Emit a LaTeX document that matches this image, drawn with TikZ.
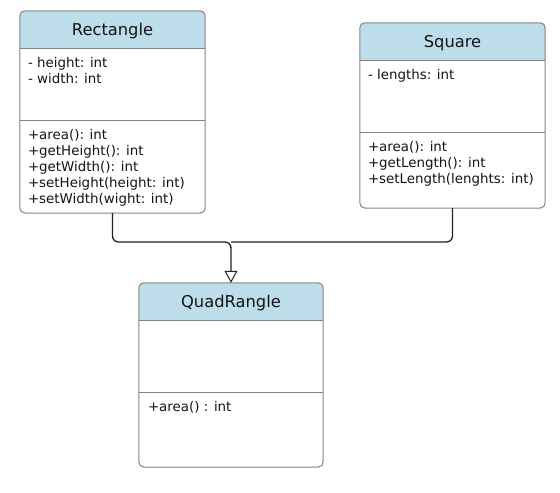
\documentclass[tikz,border=0pt]{standalone}
\usepackage{fontspec}
\setmainfont{DejaVu Sans}
\usetikzlibrary{arrows.meta,positioning,calc,backgrounds}
\definecolor{headblue}{RGB}{188,221,233}
\definecolor{boxgray}{RGB}{130,130,130}
\definecolor{linedark}{RGB}{34,34,34}
\definecolor{textdark}{RGB}{20,20,20}

\begin{document}
\begin{tikzpicture}[x=1pt, y=-1pt, text=textdark]
    \tikzset{
        head/.style={minimum width=185pt, minimum height=37pt, inner sep=0pt, text depth=0pt, font=\fontsize{16.3}{19}\selectfont},
        comp/.style={minimum width=185pt, inner sep=0pt},
        members/.style={anchor=north west, align=left, inner sep=0pt, font=\fontsize{13.4}{16}\selectfont},
        outline/.style={draw=boxgray, line width=1pt, rounded corners=5pt},
        sep/.style={draw=boxgray, line width=1pt},
        inherit/.style={draw=linedark, line width=1.3pt, rounded corners=6pt}
    }
    \useasboundingbox (0,0) rectangle (560,493);

    % Rectangle
    \node[head] (rect-head) at (112.5, 29.5) {Rectangle};
    \node[comp, minimum height=72pt, below=0pt of rect-head] (rect-attr) {};
    \node[comp, minimum height=92pt, below=0pt of rect-attr] (rect-meth) {};
    \node[members] (rect-fields) at ($(rect-attr.north west)+(8,8.5)$) {- height: int\\- width: int};
    \node[members] (rect-ops) at ($(rect-meth.north west)+(8,8.5)$) {+area(): int\\+getHeight(): int\\+getWidth(): int\\+setHeight(height: int)\\+setWidth(wight: int)};

    % Square
    \node[head] (square-head) at (452.5, 41.5) {Square};
    \node[comp, minimum height=72pt, below=0pt of square-head] (square-attr) {};
    \node[comp, minimum height=75pt, below=0pt of square-attr] (square-meth) {};
    \node[members] (square-fields) at ($(square-attr.north west)+(8,8.5)$) {- lengths: int};
    \node[members] (square-ops) at ($(square-meth.north west)+(8,8.5)$) {+area(): int\\+getLength(): int\\+setLength(lenghts: int)};

    % QuadRangle
    \node[head, minimum width=184pt] (quad-head) at (231, 301.5) {QuadRangle};
    \node[comp, minimum width=184pt, minimum height=72pt, below=0pt of quad-head] (quad-attr) {};
    \node[comp, minimum width=184pt, minimum height=74pt, below=0pt of quad-attr] (quad-meth) {};
    \node[members] (quad-ops) at ($(quad-meth.north west)+(9,8.5)$) {+area() : int};

    % class frames
    \foreach \c in {rect, square, quad} {
        \begin{scope}[on background layer]
            \begin{scope}
                \clip[rounded corners=5pt] (\c-head.north west) rectangle (\c-meth.south east);
                \fill[headblue] (\c-head.north west) rectangle (\c-head.south east);
            \end{scope}
        \end{scope}
        \draw[outline] (\c-head.north west) rectangle (\c-meth.south east);
        \draw[sep] (\c-attr.north west) -- (\c-attr.north east);
        \draw[sep] (\c-meth.north west) -- (\c-meth.north east);
    }

    % Generalisation
    \coordinate (join) at (231, 242);
    \draw[inherit, -{Triangle[open, length=12pt, width=13pt, line width=1pt]}] (rect-meth.south) |- (join) -- (quad-head.north);
    \draw[inherit] (square-meth.south) |- (join);
\end{tikzpicture}
\end{document}
